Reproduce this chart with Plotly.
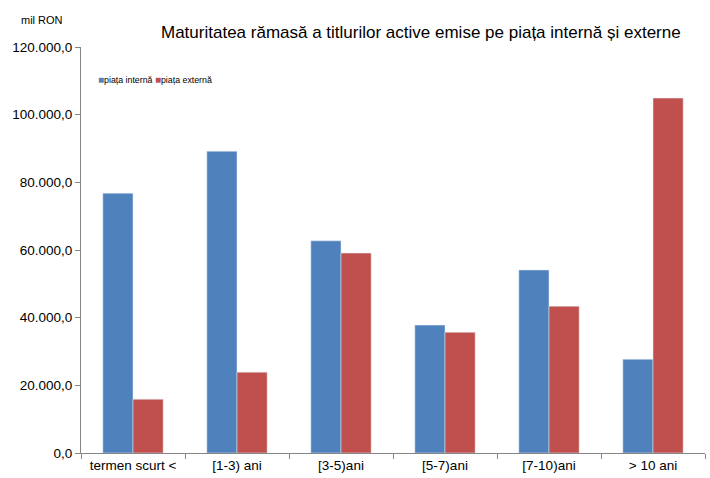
import plotly.graph_objects as go

categories = ["termen scurt <", "[1-3) ani", "[3-5)ani", "[5-7)ani", "[7-10)ani", "> 10 ani"]
piata_interna = [76800, 89200, 62700, 37800, 54100, 27700]
piata_externa = [15900, 23900, 59100, 35700, 43400, 104900]
y_ticks = [0, 20000, 40000, 60000, 80000, 100000, 120000]
color_int = "#4F81BD"
color_ext = "#C0504D"

fig = go.Figure()
fig.add_trace(go.Bar(name="piața internă", x=categories, y=piata_interna, marker_color=color_int))
fig.add_trace(go.Bar(name="piața externă", x=categories, y=piata_externa, marker_color=color_ext))

legend_text = (f'<span style="color:{color_int};font-size:10px">■</span>piața internă&nbsp;'
               f'<span style="color:{color_ext};font-size:10px">■</span>piața externă')

fig.update_layout(
    width=710, height=478,
    margin=dict(l=81, r=5, t=47, b=25, autoexpand=False),
    paper_bgcolor="white", plot_bgcolor="white",
    barmode="group", bargap=0.42, bargroupgap=0,
    separators=",.",
    font=dict(family="Liberation Sans, Arial, sans-serif", color="#000000"),
    showlegend=False,
    annotations=[
        dict(text="Maturitatea rămasă a titlurilor active emise pe piața internă și externe",
             xref="paper", yref="paper", x=0.545, y=1.0345, xanchor="center", yanchor="middle",
             showarrow=False, font=dict(size=17)),
        dict(text="mil RON", xref="paper", yref="paper", x=-0.0625, y=1.0665,
             xanchor="center", yanchor="middle", showarrow=False, font=dict(size=11)),
        dict(text=legend_text, xref="paper", yref="paper", x=0.0235, y=0.921,
             xanchor="left", yanchor="middle", showarrow=False, font=dict(size=8.8)),
    ],
)
fig.update_xaxes(showline=True, linecolor="#868686", linewidth=1, ticks="outside",
                 tickson="boundaries", ticklen=5, tickcolor="#868686",
                 tickfont=dict(size=13.5), showgrid=False, automargin=False)
fig.update_yaxes(range=[0, 120000], tickvals=y_ticks, tickformat=",.1f",
                 showline=True, linecolor="#868686", linewidth=1, ticks="outside",
                 ticklen=5, tickcolor="#868686", tickfont=dict(size=13.5), showgrid=False,
                 zeroline=False, automargin=False)

fig.write_html("out.html", config={"displayModeBar": False},
               post_script="document.body.style.margin='0';document.body.style.padding='0';")
